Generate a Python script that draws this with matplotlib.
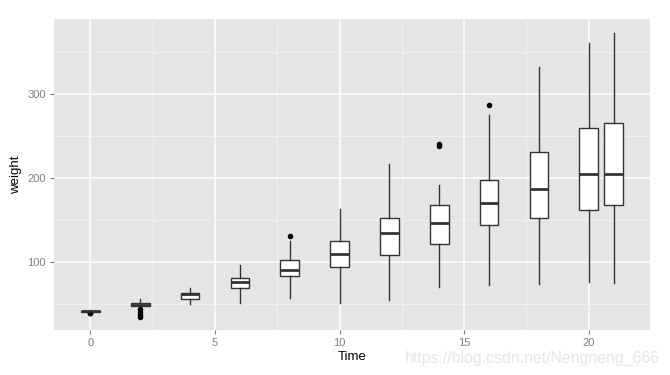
import numpy as np
import matplotlib.pyplot as plt
from matplotlib.ticker import MultipleLocator

plt.rcParams['font.family'] = ['Liberation Sans', 'DejaVu Sans']

# ChickWeight: weight by Time
times = [0, 2, 4, 6, 8, 10, 12, 14, 16, 18, 20, 21]
whislo = [41, 47, 50, 52, 58, 52, 55.5, 70, 72.6, 73.8, 77, 75.7]
q1 = [41, 48.3, 56.7, 69, 83.3, 94.4, 108.3, 121.4, 144, 152.4, 161.9, 167.9]
med = [41.5, 49.5, 62, 76, 91, 110, 135, 147, 170, 187.6, 205.5, 205.5]
q3 = [42, 51, 63, 81, 102.7, 125.4, 152.4, 167.9, 197.6, 231, 259.5, 265.5]
whishi = [43, 56, 69, 96.8, 125.7, 163.5, 217, 192, 275.4, 332.5, 361, 373]
fliers = [[39.5, 40], [44, 40.5, 37.6, 35], [], [], [131.7], [], [], [238.5, 241], [287], [], [], []]

stats = []
for i in range(len(times)):
    stats.append({"whislo": whislo[i], "q1": q1[i], "med": med[i], "q3": q3[i],
                  "whishi": whishi[i], "fliers": fliers[i]})

fig = plt.figure(figsize=(6.7, 3.75), dpi=100)
ax = fig.add_axes([54 / 670, 1 - 330 / 375, 596 / 670, 311 / 375])
ax.set_facecolor('#E5E5E5')

line = dict(color='#333333', linewidth=1.0)
ax.bxp(stats, positions=times, widths=0.75, patch_artist=True,
       boxprops=dict(facecolor='white', edgecolor='#333333', linewidth=1.0),
       whiskerprops=line, capprops=dict(linewidth=0),
       medianprops=dict(color='#333333', linewidth=2.0),
       flierprops=dict(marker='o', markerfacecolor='black', markeredgecolor='black',
                       markersize=3), showcaps=False, zorder=3)

ax.set_xlim(-1.46, 22.46)
ax.set_ylim(19.4, 389.6)
ax.xaxis.set_minor_locator(MultipleLocator(2.5))
ax.yaxis.set_minor_locator(MultipleLocator(50))
ax.set_xticks([0, 5, 10, 15, 20])
ax.set_xticklabels(['0', '5', '10', '15', '20'])
ax.set_yticks([100, 200, 300])

ax.grid(which='major', color='white', linewidth=1.1, zorder=0)
ax.grid(which='minor', color='#F2F2F2', linewidth=0.6, zorder=0)
ax.set_axisbelow(True)
for s in ax.spines.values():
    s.set_visible(False)
ax.tick_params(which='major', length=3, color='#7F7F7F', labelcolor='#7F7F7F',
               labelsize=8, pad=3)
ax.tick_params(which='minor', length=0)

ax.set_xlabel('Time', fontsize=9.5, labelpad=2)
ax.set_ylabel('weight', fontsize=9.5, labelpad=4)

fig.text(0.985, 0.045, 'https://blog.csdn.net/Nengneng_666', ha='right', va='center',
         fontsize=11.4, color='#E6E6E6')

fig.savefig('out.png', dpi=100)
